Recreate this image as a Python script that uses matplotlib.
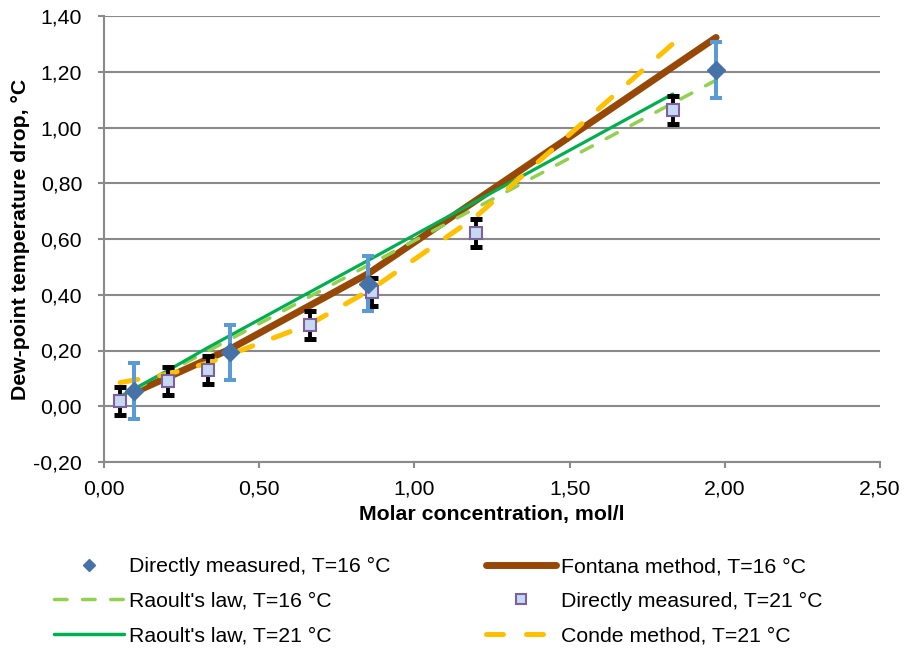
import matplotlib
matplotlib.use("Agg")
import matplotlib.pyplot as plt
from matplotlib.lines import Line2D
from matplotlib.ticker import FuncFormatter, MultipleLocator

plt.rcParams['font.family'] = ['Liberation Sans', 'DejaVu Sans']

# ---- data ----
x16 = [0.098, 0.406, 0.85, 1.972]
measured16 = [0.055, 0.193, 0.44, 1.205]
err16 = [0.10, 0.10, 0.10, 0.10]
fontana16 = [0.05, 0.205, 0.475, 1.323]
raoult16 = [0.06, 0.24, 0.505, 1.17]

x21 = [0.052, 0.205, 0.334, 0.664, 0.862, 1.198, 1.832]
measured21 = [0.019, 0.091, 0.131, 0.292, 0.41, 0.623, 1.064]
err21 = [0.05, 0.05, 0.05, 0.05, 0.05, 0.05, 0.05]
raoult21 = [0.035, 0.128, 0.21, 0.41, 0.53, 0.735, 1.12]
conde21 = [0.085, 0.115, 0.155, 0.295, 0.42, 0.68, 1.30]

labels = ["Directly measured, T=16 °C", "Raoult's law, T=16 °C", "Raoult's law, T=21 °C",
          "Fontana method, T=16 °C", "Directly measured, T=21 °C", "Conde method, T=21 °C"]

xlabel = "Molar concentration, mol/l"
ylabel = "Dew-point temperature drop, °C"

# ---- styles ----
C_DIAM = '#4672A8'
C_DIAM_ERR = '#5B9BD5'
C_SQ_FILL = '#C6D9F1'
C_SQ_EDGE = '#7D60A0'
C_BROWN = '#974806'
C_LGREEN = '#92D050'
C_GREEN = '#00B050'
C_ORANGE = '#FFC000'
C_GRID = '#8A8A8A'
FS = 15.3

fig = plt.figure(figsize=(9.08, 6.48), dpi=100)
W, H = 908, 648
ax = fig.add_axes([104 / W, 1 - 462 / H, (880 - 104) / W, (462 - 16) / H])

ax.set_xlim(0, 2.5)
ax.set_ylim(-0.2, 1.4)
ax.xaxis.set_major_locator(MultipleLocator(0.5))
ax.yaxis.set_major_locator(MultipleLocator(0.2))
fmt = FuncFormatter(lambda v, p: f"{v:.2f}".replace('.', ',').replace('−', '-'))
ax.xaxis.set_major_formatter(fmt)
ax.yaxis.set_major_formatter(fmt)

ax.grid(axis='y', color=C_GRID, linewidth=1.5, zorder=0)
ax.set_axisbelow(True)
for s in ['top', 'right']:
    ax.spines[s].set_visible(False)
for s in ['left', 'bottom']:
    ax.spines[s].set_color(C_GRID)
    ax.spines[s].set_linewidth(1.5)
ax.tick_params(axis='both', direction='out', length=4.3, width=1.5, color=C_GRID,
               labelsize=FS, labelcolor='black')
ax.tick_params(axis='y', pad=11.5)
ax.tick_params(axis='x', pad=8.5)

# lines
l_fontana, = ax.plot(x16, fontana16, color=C_BROWN, lw=5, solid_capstyle='round', zorder=2)
l_r16, = ax.plot(x16, raoult16, color=C_LGREEN, lw=2.5, dashes=(3.6, 4.5),
                 dash_capstyle='round', zorder=2.2)
l_r21, = ax.plot(x21, raoult21, color=C_GREEN, lw=2.3, solid_capstyle='round', zorder=2.3)
l_conde, = ax.plot(x21, conde21, color=C_ORANGE, lw=3.6, dashes=(3.6, 4.4),
                   dash_capstyle='round', zorder=2.4)

# measured T=21
ax.errorbar(x21, measured21, yerr=err21, fmt='none', ecolor='black', elinewidth=2.8,
            capsize=4.3, capthick=3.6, zorder=3)
ax.plot(x21, measured21, linestyle='none', marker='s', ms=9.3, mfc=C_SQ_FILL,
        mec=C_SQ_EDGE, mew=1.5, zorder=4)

# measured T=16
ax.errorbar(x16, measured16, yerr=err16, fmt='none', ecolor=C_DIAM_ERR, elinewidth=2.9,
            capsize=4.6, capthick=2.9, zorder=3.5)
ax.plot(x16, measured16, linestyle='none', marker='D', ms=9.4, mfc=C_DIAM,
        mec=C_DIAM, mew=1, zorder=5)

ax.set_xlabel(xlabel, fontsize=FS, fontweight='bold')
ax.set_ylabel(ylabel, fontsize=FS, fontweight='bold')
ax.xaxis.set_label_coords(0.5, (462 - 505) / 446)
ax.yaxis.set_label_coords((30 - 104) / 776, 0.5)

# legend proxies
h_dm16 = Line2D([], [], linestyle='none', marker='D', ms=6.3, mfc=C_DIAM, mec=C_DIAM)
h_dm21 = Line2D([], [], linestyle='none', marker='s', ms=7.2, mfc=C_SQ_FILL, mec=C_SQ_EDGE, mew=1.5)
h_r16 = Line2D([], [], color=C_LGREEN, lw=2.5, dashes=(3.6, 4.5), dash_capstyle='round')
h_r21 = Line2D([], [], color=C_GREEN, lw=2.5, solid_capstyle='round')
h_fon = Line2D([], [], color=C_BROWN, lw=5, solid_capstyle='round')
h_con = Line2D([], [], color=C_ORANGE, lw=3.6, dashes=(3.4, 4.6), dash_capstyle='round')

leg = fig.legend([h_dm16, h_r16, h_r21, h_fon, h_dm21, h_con], labels,
                 loc='upper left', bbox_to_anchor=(54 / W, 1 - 557 / H),
                 ncol=2, frameon=False, fontsize=FS, borderpad=0, borderaxespad=0,
                 handlelength=3.3, handletextpad=0.25, columnspacing=4.45,
                 labelspacing=0.74)

fig.savefig('out.png', dpi=100)
